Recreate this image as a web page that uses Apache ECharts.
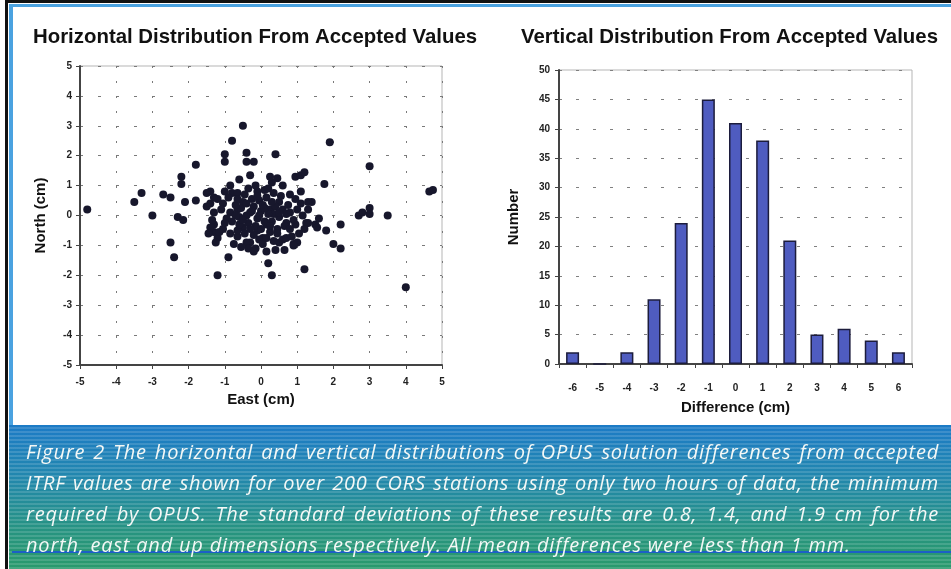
<!DOCTYPE html>
<html>
<head>
<meta charset="utf-8">
<script src="https://cdn.jsdelivr.net/npm/echarts@6/dist/echarts.min.js"></script>
<style>
  html, body { margin: 0; padding: 0; width: 951px; height: 569px; overflow: hidden; background: #fff; }
  .abs { position: absolute; }
  #blackTop { left: 5px; top: 0; width: 946px; height: 3px; background: #111; }
  #blackLeft { left: 5px; top: 0; width: 3px; height: 569px; background: #111; }
  #blueTop { left: 9px; top: 4px; width: 942px; height: 3px; background: #4aa2e0; }
  #blueLeft { left: 9px; top: 4px; width: 4px; height: 565px; background: #4aa2e0; }
  #panel { left: 13px; top: 8px; width: 938px; height: 417px; background: #fff; }
  #band { left: 9px; top: 425px; width: 942px; height: 144px;
    background:
      repeating-linear-gradient(180deg, rgba(255,255,255,0.0) 0px, rgba(255,255,255,0.0) 2px, rgba(255,255,255,0.14) 2px, rgba(255,255,255,0.14) 4px),
      linear-gradient(180deg, #1c7bc6 0%, #2287ae 35%, #27947f 75%, #2a9a6c 100%); }
  #bandLine { left: 12px; top: 551px; width: 939px; height: 2px; background: #1d5fc6; }
  #caption { left: 26px; top: 436px; width: 913px; color: #f4f8f6;
    font-family: "Open Sans", "Liberation Sans", sans-serif; font-style: italic; font-size: 20px; letter-spacing: 0.8px; }
  #caption div { height: 31px; line-height: 31px; white-space: nowrap; }
  #caption div.j { text-align: justify; text-align-last: justify; white-space: normal; overflow: hidden; }
  #chart { left: 0; top: 0; width: 951px; height: 569px; }
</style>
</head>
<body>
<div id="blackTop" class="abs"></div>
<div id="blackLeft" class="abs"></div>
<div id="blueTop" class="abs"></div>
<div id="blueLeft" class="abs"></div>
<div id="panel" class="abs"></div>
<div id="band" class="abs"></div>
<div id="bandLine" class="abs"></div>
<div id="chart" class="abs"></div>
<div id="caption" class="abs">
  <div class="j">Figure 2 The horizontal and vertical distributions of OPUS solution differences from accepted</div>
  <div class="j">ITRF values are shown for over 200 CORS stations using only two hours of data, the minimum</div>
  <div class="j">required by OPUS. The standard deviations of these results are 0.8, 1.4, and 1.9 cm for the</div>
  <div>north, east and up dimensions respectively. All mean differences were less than 1 mm.</div>
</div>
<script>
// ---- Data ----
const leftTitle = 'Horizontal Distribution From Accepted Values';
const rightTitle = 'Vertical Distribution From Accepted Values';

// East (cm), North (cm) offsets
const scatterOuter = [
  [-4.8,0.2],[-3.5,0.45],[-3.3,0.75],[-3.0,0.0],[-2.7,0.7],[-2.5,0.6],[-2.5,-0.9],[-2.4,-1.4],
  [-2.3,-0.05],[-2.15,-0.15],[-2.2,1.3],[-2.2,1.05],[-2.1,0.45],[-1.8,0.5],[-1.8,1.7],[-1.2,-2.0],
  [-0.9,-1.4],[-0.5,3.0],[-0.8,2.5],[-0.4,2.1],[-0.4,1.8],[-0.2,1.8],[-1.0,1.8],[-1.0,2.05],
  [0.4,2.05],[1.9,2.45],[3.0,1.65],[4.65,0.8],[4.75,0.85],[1.75,1.05],[0.95,1.3],[1.1,1.35],
  [1.2,1.45],[1.1,0.8],[0.8,0.7],[-0.3,1.35],[-0.6,1.2],[0.45,1.25],[0.3,1.1],[0.1,0.85],
  [-1.4,0.8],[-1.0,0.8],[-0.8,0.75],[1.4,0.45],[0.2,-1.6],[0.3,-2.0],[1.2,-1.8],[2.0,-0.95],
  [2.2,-1.1],[2.2,-0.3],[1.8,-0.5],[2.7,0.0],[2.8,0.1],[3.0,0.25],[3.0,0.05],[3.5,0.0],
  [4.0,-2.4],[1.5,-0.3],[1.3,-0.25],[1.6,-0.1],[1.0,-0.9],[0.9,-0.95],[0.65,-1.15],[0.4,-1.15],
  [0.5,-0.9],[-0.65,0.2]
];
const scatterCluster = [
  [0.25,1.3],[-1.5,0.75],[-0.65,0.75],[-0.1,0.8],[0.2,0.9],[-1.4,0.4],[-1.05,0.4],[-0.5,0.45],
  [-0.05,0.5],[0.5,0.45],[1.1,0.4],[1.3,0.45],[-1.3,0.1],[-0.85,0.1],[-0.6,-0.05],[-0.3,0.1],
  [-0.1,-0.1],[0.25,0.2],[0.5,-0.05],[0.8,0.1],[1.15,0.0],[-1.3,-0.3],[-1.05,-0.45],[-0.5,-0.4],
  [-0.1,-0.5],[0.15,-0.3],[0.45,-0.45],[0.7,-0.25],[-1.2,-0.75],[-0.65,-0.7],[-0.3,-0.9],[0.05,-0.75],
  [0.6,-0.8],[0.9,-1.0],[-1.3,-0.55],[-1.4,-0.4],[-1.25,-0.9],[-0.65,-0.5],[-0.4,-0.9],[-0.15,-1.1],
  [-0.35,-1.1],[-0.05,-0.8],[0.15,-0.75],[0.7,-0.75],[0.85,-0.7],[0.95,-0.3],[1.25,-0.25],[1.55,-0.4],
  [-0.2,0.3],[0.0,0.15],[0.1,-0.2],[-0.4,0.0],[-0.15,-0.35],[0.35,0.05],[0.3,-0.2],[-0.55,0.25],
  [-0.7,0.35],[-0.25,0.55],[0.05,0.35],[0.4,0.3],[0.6,0.2],[0.65,-0.35],[-0.8,-0.2],[-0.95,-0.1],
  [-1.1,0.2],[-0.45,-0.6],[-0.2,-0.65],[0.25,-0.55],[0.35,-0.85],[0.0,-0.45],[-0.35,-0.25],[-0.6,-0.3],
  [0.15,0.6],[-0.45,0.7],[0.55,0.65],[0.95,0.55],[1.0,0.2],[1.2,-0.45],[-1.2,0.55],[-1.5,0.3],
  [-1.35,-0.15],[-1.15,-0.55],[-0.85,-0.6],[-0.75,-0.95],[-0.55,-1.05],[0.75,0.35],[0.9,-0.15],[-0.05,0.0],
  [0.2,0.05],[-0.3,-0.45],[0.45,-0.6],[0.05,-0.95],[-0.1,0.65],[0.35,0.75],[-0.65,0.55],[-0.9,0.6],
  [-1.3,0.6],[0.7,0.05],[1.3,0.2],[-0.15,1.0],[0.6,1.0],[-0.85,1.0],[0.5,0.1],[-0.5,-0.15],
  [-0.25,0.15],[0.1,0.25],[-0.7,0.0],[-1.0,-0.25],[0.25,-0.35],[0.8,-0.45],[-0.4,0.4],[0.3,0.45],
  [-1.45,-0.6],[1.05,-0.6],[0.15,-1.2],[-0.2,-1.2],[-0.35,0.9]
];

const diffCategories = ['-6','-5','-4','-3','-2','-1','0','1','2','3','4','5','6'];
const diffCounts = [2, 0, 2, 11, 24, 45, 41, 38, 21, 5, 6, 4, 2];

// ---- Chart ----
const FONT = '"Liberation Sans", Arial, sans-serif';
const chart = echarts.init(document.getElementById('chart'), null, { renderer: 'canvas' });
const axisLbl = { fontFamily: FONT, fontSize: 10, fontWeight: 'bold', color: '#222' };
const nameStyle = { fontFamily: FONT, fontSize: 15, fontWeight: 'bold', color: '#111' };
const titleStyle = { fontFamily: FONT, fontSize: 20.4, fontWeight: 'bold', color: '#111' };

chart.setOption({
  backgroundColor: 'transparent',
  animation: false,
  title: [
    { text: leftTitle, left: 33, top: 27, padding: 0, textStyle: titleStyle },
    { text: rightTitle, left: 521, top: 27, padding: 0, textStyle: titleStyle }
  ],
  grid: [
    { left: 80, top: 66, width: 362, height: 299, show: true, borderColor: '#b5b5b5', borderWidth: 1 },
    { left: 559, top: 70, width: 353, height: 294, show: true, borderColor: '#b5b5b5', borderWidth: 1 }
  ],
  xAxis: [
    { type: 'value', gridIndex: 0, min: -5, max: 5, interval: 1,
      name: 'East (cm)', nameLocation: 'middle', nameGap: 27, nameTextStyle: nameStyle,
      axisLine: { show: true, onZero: false, lineStyle: { color: '#444', width: 2 } },
      axisTick: { show: true, length: 4, lineStyle: { color: '#444' } },
      axisLabel: Object.assign({ margin: 12 }, axisLbl),
      splitLine: { show: true, lineStyle: { color: '#7a7a7a', type: [2, 13], width: 1 } } },
    { type: 'category', gridIndex: 1, data: diffCategories,
      name: 'Difference (cm)', nameLocation: 'middle', nameGap: 36, nameTextStyle: nameStyle,
      axisLine: { show: true, lineStyle: { color: '#444', width: 2 } },
      axisTick: { show: true, length: 4, alignWithLabel: false, lineStyle: { color: '#444' } },
      axisLabel: Object.assign({ margin: 19 }, axisLbl),
      splitLine: { show: false } }
  ],
  yAxis: [
    { type: 'value', gridIndex: 0, min: -5, max: 5, interval: 1,
      name: 'North (cm)', nameLocation: 'middle', nameGap: 32, nameRotate: 90, nameTextStyle: nameStyle,
      axisLine: { show: true, onZero: false, lineStyle: { color: '#444', width: 2 } },
      axisTick: { show: true, length: 4, lineStyle: { color: '#444' } },
      axisLabel: Object.assign({ margin: 8 }, axisLbl),
      splitLine: { show: true, lineStyle: { color: '#7a7a7a', type: [3, 15], width: 1 } } },
    { type: 'value', gridIndex: 1, min: 0, max: 50, interval: 5,
      name: 'Number', nameLocation: 'middle', nameGap: 38, nameRotate: 90, nameTextStyle: nameStyle,
      axisLine: { show: true, lineStyle: { color: '#444', width: 2 } },
      axisTick: { show: true, length: 4, lineStyle: { color: '#444' } },
      axisLabel: Object.assign({ margin: 9 }, axisLbl),
      splitLine: { show: true, lineStyle: { color: '#808080', type: [3, 14], width: 1 } } }
  ],
  series: [
    { type: 'scatter', xAxisIndex: 0, yAxisIndex: 0, symbol: 'circle', symbolSize: 8,
      data: scatterOuter.concat(scatterCluster),
      itemStyle: { color: '#17172c', opacity: 1 } },
    { type: 'bar', xAxisIndex: 1, yAxisIndex: 1, barWidth: 13, data: diffCounts,
      itemStyle: { color: '#4f5cc0', borderColor: '#1c1c3c', borderWidth: 1.5 } }
  ]
});
</script>
</body>
</html>
